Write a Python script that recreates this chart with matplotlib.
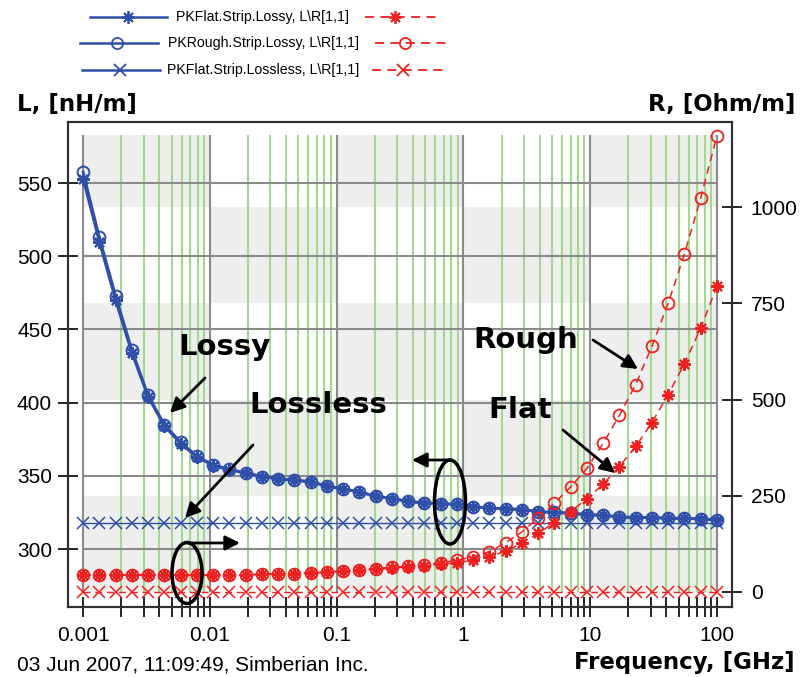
import matplotlib
matplotlib.use('Agg')
import matplotlib.pyplot as plt
from matplotlib import transforms
from matplotlib.patches import Rectangle, Ellipse
from matplotlib.lines import Line2D
from matplotlib.ticker import FixedLocator, NullFormatter

# frequency sweep, GHz (40 log spaced points)
freq = [0.001, 0.001343, 0.001805, 0.002424, 0.003257, 0.004376, 0.005878, 0.007897,
        0.01061, 0.01425, 0.01915, 0.02572, 0.03455, 0.04642, 0.06236, 0.08377,
        0.1125, 0.1512, 0.2031, 0.2729, 0.3665, 0.4924, 0.6615, 0.8887,
        1.194, 1.604, 2.154, 2.894, 3.888, 5.223, 7.017, 9.427,
        12.66, 17.01, 22.86, 30.70, 41.25, 55.41, 74.44, 100.0]

# L, nH/m (left axis)
L_flat = [553, 510, 470, 434, 404, 384, 372, 363, 357, 354, 352, 349.5, 348, 347, 346, 343,
          341, 339, 336, 334.5, 332.5, 331.5, 331, 330.5, 329, 328, 327.5, 327, 325.5, 325,
          324.5, 323.5, 323, 322, 321.5, 321.5, 321, 321, 320.5, 320]
L_rough = [557.5, 513, 473, 436, 405, 385, 373, 363.5, 357.5, 354.5, 352, 349.5, 348, 347, 346, 343,
           341, 339, 336, 334.5, 332.5, 331.5, 331, 330.5, 329, 328, 327.5, 327, 325.5, 325,
           324.5, 323.5, 323, 322, 321.5, 321.5, 321, 321, 320.5, 320]
L_lossless = [318.0] * 40

# R, Ohm/m (right axis)
R_flat = [44, 44, 44, 44, 44, 44, 44, 44, 44, 44, 45, 46, 47, 48, 49, 51,
          54, 56, 59, 62, 65, 68, 72, 76, 82, 92, 106, 127, 153, 180,
          209, 242, 280, 326, 378, 440, 513, 593, 685, 794]
R_rough = [44, 44, 44, 44, 44, 44, 44, 44, 44, 44, 45, 46, 47, 48, 50, 52,
           55, 58, 61, 64, 67, 71, 76, 82, 92, 105, 128, 156, 192, 231,
           273, 321, 386, 459, 539, 638, 750, 878, 1023, 1185]
R_lossless = [0.0] * 40

L_ticks = [300, 350, 400, 450, 500, 550]
R_ticks = [0, 250, 500, 750, 1000]
decades = [0.001, 0.01, 0.1, 1, 10, 100]
decade_labels = ['0.001', '0.01', '0.1', '1', '10', '100']
R_rows = [0, 250, 500, 750, 1000, 1187]

legend_labels = ['PKFlat.Strip.Lossy, L\\R[1,1]',
                 'PKRough.Strip.Lossy, L\\R[1,1]',
                 'PKFlat.Strip.Lossless, L\\R[1,1]']

BLUE = '#2f4fa8'
RED = '#ee2020'
GREEN = '#a3d98f'
GRID = '#8a8a8a'
SHADE = '#edeeed'
STAR = (8, 2, 0)

W, H = 807, 677
fig = plt.figure(figsize=(W / 100, H / 100), dpi=100)


def px(x, y):
    return (x / W, 1 - y / H)


ax = fig.add_axes([68 / W, 1 - 607 / H, 664 / W, 485 / H])
ax2 = ax.twinx()
ax.set_xscale('log')
ax.set_xlim(10 ** -3.119, 10 ** 2.119)
ax.set_ylim(260.4, 591.7)
ax2.set_ylim(-39, 1221)

# checkerboard shading: columns = decades, rows = R bands
blend = transforms.blended_transform_factory(ax.transData, ax2.transData)
for d in range(len(decades) - 1):
    for r in range(len(R_rows) - 1):
        if (d + r) % 2 == 0:
            ax.add_patch(Rectangle((decades[d], R_rows[r]), decades[d + 1] - decades[d],
                                   R_rows[r + 1] - R_rows[r], transform=blend,
                                   facecolor=SHADE, edgecolor='none', zorder=0))

minors = [m * d for d in decades[:-1] for m in range(2, 10)]
ax.vlines(minors, R_rows[0], R_rows[-1], transform=blend, color=GREEN, lw=1.5, zorder=1)
ax.vlines(decades, R_rows[0], R_rows[-1], transform=blend, color=GRID, lw=1.5, zorder=1)
ax.hlines(L_ticks, decades[0], decades[-1], color=GRID, lw=1.5, zorder=1)

# curves
ax.plot(freq, L_flat, color=BLUE, lw=2.0, marker=STAR, ms=9, mew=1.6, zorder=3)
ax.plot(freq, L_rough, color=BLUE, lw=2.0, marker='o', ms=8.5, mfc='none', mew=1.4, zorder=3)
ax.plot(freq, L_lossless, color=BLUE, lw=1.0, marker='x', ms=8, mew=1.1, zorder=3)
ax2.plot(freq, R_flat, color=RED, lw=1.1, ls=(0, (5, 3.5)), marker=STAR, ms=9, mew=1.5)
ax2.plot(freq, R_rough, color=RED, lw=1.1, ls=(0, (5, 3.5)), marker='o', ms=8.5, mfc='none', mew=1.3)
ax2.plot(freq, R_lossless, color=RED, lw=1.0, ls=(0, (5, 3.5)), marker='x', ms=8, mew=1.1)

tick_font = dict(family='Liberation Sans', size=15)
ax.set_xticks(decades)
ax.set_xticklabels(decade_labels, fontdict=tick_font)
ax.xaxis.set_minor_locator(FixedLocator(minors))
ax.xaxis.set_minor_formatter(NullFormatter())
ax.set_yticks(L_ticks)
ax.set_yticklabels([str(v) for v in L_ticks], fontdict=tick_font)
ax2.set_yticks(R_ticks)
ax2.set_yticklabels([str(v) for v in R_ticks], fontdict=tick_font)
ax.tick_params(which='both', direction='inout', length=15, width=1.2, pad=6)
ax.tick_params(axis='y', pad=4)
ax2.tick_params(which='both', direction='inout', length=15, width=1.2, pad=6)
for a in (ax, ax2):
    for s in a.spines.values():
        s.set_linewidth(1.5)
        s.set_color('#303030')

# axis titles and footer
bold = dict(family='DejaVu Sans', weight='bold', size=16.5)
fig.text(*px(17, 104), 'L, [nH/m]', ha='left', va='center', **bold)
fig.text(*px(795, 104), 'R, [Ohm/m]', ha='right', va='center', **bold)
fig.text(*px(795, 662), 'Frequency, [GHz]', ha='right', va='center', **bold)
fig.text(*px(17, 665), '03 Jun 2007, 11:09:49, Simberian Inc.', ha='left', va='center',
         family='Liberation Sans', size=15)

# legend drawn by hand: blue sample, label, red sample
row_y = [17, 43, 70]
blue_span = [(90, 128, 167), (80, 117, 158), (82, 120, 160)]
red_span = [(365, 395, 437), (375, 405, 447), (372, 403, 447)]
row_markers = [(STAR, 'full'), ('o', 'none'), ('x', 'full')]
for y, lab, b, r, (mk, fill) in zip(row_y, legend_labels, blue_span, red_span, row_markers):
    yy = 1 - y / H
    fig.add_artist(Line2D([v / W for v in b], [yy] * 3, color=BLUE, lw=1.8, marker=mk,
                          markevery=[1], ms=9 if mk != 'o' else 8,
                          mfc=BLUE if fill == 'full' else 'none', mew=1.3))
    fig.add_artist(Line2D([v / W for v in r], [yy] * 3, color=RED, lw=1.3, ls=(0, (5, 3.5)),
                          marker=mk, markevery=[1], ms=9 if mk != 'o' else 8,
                          mfc=RED if fill == 'full' else 'none', mew=1.3))
    fig.text(263 / W, yy, lab, ha='center', va='center', family='Liberation Sans', size=10.2)

# annotations
note = dict(family='DejaVu Sans', weight='bold', size=21, ha='center', va='center')
arrow = dict(arrowstyle='-|>', color='black', lw=2, mutation_scale=22, shrinkA=0, shrinkB=0)
for txt, pos in [('Lossy', (224, 347)), ('Lossless', (318, 405)),
                 ('Rough', (526, 340)), ('Flat', (520, 410))]:
    ax2.annotate(txt, xy=px(*pos), xycoords='figure fraction', **note)
for tail, head in [((205, 378), (170, 413)), ((253, 445), (185, 518)),
                   ((593, 340), (638, 369)), ((563, 430), (615, 473)),
                   ((187, 543), (240, 543)), ((451, 460), (412, 460))]:
    ax2.annotate('', xy=px(*head), xytext=px(*tail), xycoords='figure fraction',
                 textcoords='figure fraction', arrowprops=arrow)
for c, w, h in [((187, 573), 30, 61), ((450, 502), 31, 84)]:
    fig.add_artist(Ellipse(px(*c), w / W, h / H, transform=fig.transFigure,
                           fill=False, lw=2.5, color='black'))

fig.savefig('out.png', dpi=100)
